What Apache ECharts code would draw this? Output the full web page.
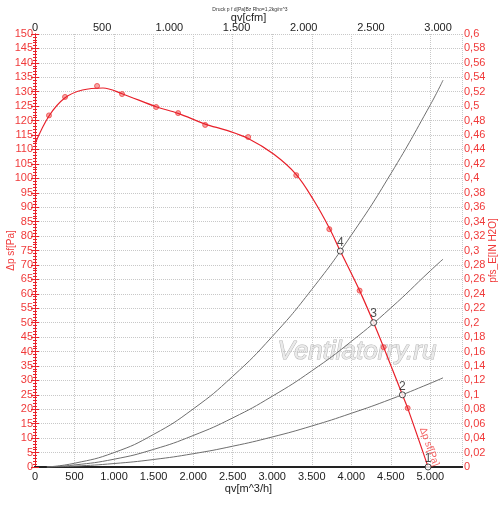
<!DOCTYPE html>
<html>
<head>
<meta charset="utf-8">
<script src="https://cdn.jsdelivr.net/npm/echarts@6/dist/echarts.min.js"></script>
<style>
  html, body { margin: 0; padding: 0; background: #fff; }
  #chart { width: 500px; height: 505px; }
</style>
</head>
<body>
<div id="chart"></div>
<script>
// fan curve (qv in m^3/h, pressure in Pa)
var curveQ = [0, 177, 380, 600, 860, 1101, 1532, 1810, 2152, 2426, 2696, 3017, 3304, 3523, 3722, 3861, 4105, 4282, 4409, 4646, 4713, 4971];
var curveP = [112, 121.6, 127.9, 130.6, 131.3, 129.3, 124.8, 122.5, 118.8, 116.6, 113.8, 108.4, 101.3, 92.5, 82.8, 74.8, 61.1, 50.0, 41.5, 25.0, 20.4, 0];

// measured points on the curve
var dotQ = [177, 380, 785, 1101, 1532, 1810, 2152, 2696, 3304, 3722, 4105, 4409, 4713];
var dotP = [121.8, 128.2, 132.0, 129.2, 124.7, 122.6, 118.5, 114.3, 101.1, 82.4, 61.1, 41.5, 20.4];

// system curves 2, 3, 4
var sysQ = [150, 500, 1000, 1500, 2000, 2500, 3000, 3500, 4000, 4500, 5000, 5160];
var sys2 = [0, 0.3, 1.2, 2.6, 4.6, 7.2, 10.4, 14.2, 18.6, 23.5, 29.0, 30.9];
var sys3 = [0, 0.7, 2.7, 6.1, 10.9, 17.0, 24.5, 33.3, 43.5, 55.1, 68.0, 72.0];
var sys4 = [0, 1.3, 5.0, 11.3, 20.1, 31.4, 45.2, 61.5, 80.3, 101.6, 125.5, 134.0];

// operating points
var opName = ['1', '2', '3', '4'];
var opQ = [4971, 4646, 4282, 3861];
var opP = [0, 25.0, 50.0, 74.8];

var red = '#e8202a';
var redText = '#f03a3a';
var font = 'Liberation Sans';

function pairs(xs, ys) {
    var out = [];
    for (var i = 0; i < xs.length; i++) out.push([xs[i], ys[i]]);
    return out;
}
function thousands(v) {
    if (v % 500 !== 0) return '';
    if (v < 1000) return String(v);
    return (v / 1000).toFixed(3);
}

var myChart = echarts.init(document.getElementById('chart'));
var option = {
    animation: false,
    backgroundColor: '#fff',
    title: {
        text: 'Druck p f d[Pa]Bz Rho=1,2kg/m^3',
        left: 'center',
        top: 2,
        textStyle: { fontSize: 5, fontWeight: 'normal', color: '#333', fontFamily: font }
    },
    grid: { left: 35, right: 38, top: 34, bottom: 38, containLabel: false, outerBoundsMode: 'none' },
    graphic: [{
        type: 'text',
        left: 277,
        top: 338,
        silent: true,
        style: {
            text: 'Ventilatorry.ru',
            font: 'italic 26px "Liberation Sans"',
            fill: '#eaeaea',
            stroke: '#b4b4b4',
            lineWidth: 1
        }
    }],
    xAxis: [
        {
            type: 'value',
            position: 'bottom',
            min: 0,
            max: 5400,
            interval: 500,
            name: 'qv[m^3/h]',
            nameLocation: 'middle',
            nameGap: 16,
            nameMoveOverlap: false,
            nameTextStyle: { color: '#222', fontSize: 11, fontFamily: font },
            axisLine: { lineStyle: { color: '#222', width: 2 } },
            axisTick: { show: false },
            axisLabel: { color: '#222', fontSize: 11, fontFamily: font, margin: 4, formatter: thousands },
            splitLine: { show: true, lineStyle: { color: '#c8c8c8', type: 'dotted' } }
        },
        {
            type: 'value',
            position: 'top',
            min: 0,
            max: 3178,
            interval: 500,
            name: 'qv[cfm]',
            nameLocation: 'middle',
            nameGap: 11,
            nameMoveOverlap: false,
            nameTextStyle: { color: '#222', fontSize: 11, fontFamily: font },
            axisLine: { lineStyle: { color: '#222', width: 2 } },
            axisTick: { show: false },
            axisLabel: { color: '#222', fontSize: 11, fontFamily: font, margin: 1, formatter: thousands },
            splitLine: { show: false }
        }
    ],
    yAxis: [
        {
            type: 'value',
            position: 'left',
            min: 0,
            max: 150,
            interval: 5,
            name: 'Δp sf[Pa]',
            nameLocation: 'middle',
            nameRotate: 90,
            nameGap: 19,
            nameMoveOverlap: false,
            nameTextStyle: { color: redText, fontSize: 10, fontFamily: font },
            axisLine: { show: true, lineStyle: { color: red } },
            axisTick: { show: true, length: 4, lineStyle: { color: red } },
            minorTick: { show: true, splitNumber: 5, length: 2, lineStyle: { color: red } },
            axisLabel: { color: redText, fontSize: 11, fontFamily: font, margin: 2 },
            splitLine: { show: true, lineStyle: { color: '#c8c8c8', type: 'dotted' } }
        },
        {
            type: 'value',
            position: 'right',
            min: 0,
            max: 0.6,
            interval: 0.02,
            name: 'pfs_E[IN H2O]',
            nameLocation: 'middle',
            nameRotate: 90,
            nameGap: 26,
            nameMoveOverlap: false,
            nameTextStyle: { color: redText, fontSize: 10, fontFamily: font },
            axisLine: { show: true, lineStyle: { color: red } },
            axisTick: { show: true, length: 4, lineStyle: { color: red } },
            minorTick: { show: true, splitNumber: 5, length: 2, lineStyle: { color: red } },
            axisLabel: {
                color: redText, fontSize: 11, fontFamily: font, margin: 2,
                formatter: function (v) { return String(+v.toFixed(2)).replace('.', ','); }
            },
            splitLine: { show: false }
        }
    ],
    series: [
        {
            name: 'sys2', type: 'line', smooth: true, symbol: 'none',
            lineStyle: { color: '#6e6e6e', width: 1 },
            data: pairs(sysQ, sys2)
        },
        {
            name: 'sys3', type: 'line', smooth: true, symbol: 'none',
            lineStyle: { color: '#6e6e6e', width: 1 },
            data: pairs(sysQ, sys3)
        },
        {
            name: 'sys4', type: 'line', smooth: true, symbol: 'none',
            lineStyle: { color: '#6e6e6e', width: 1 },
            data: pairs(sysQ, sys4)
        },
        {
            name: 'fan', type: 'line', smooth: 0.35, symbol: 'none',
            lineStyle: { color: red, width: 1.2 },
            data: pairs(curveQ, curveP)
        },
        {
            name: 'dots', type: 'scatter', symbol: 'circle', symbolSize: 5,
            itemStyle: { color: '#f59090', borderColor: '#ee4444', borderWidth: 1 },
            data: pairs(dotQ, dotP)
        },
        {
            name: 'op', type: 'scatter', symbol: 'circle', symbolSize: 6,
            itemStyle: { color: '#fff', borderColor: '#222', borderWidth: 1 },
            label: {
                show: true, position: 'top', distance: -1, color: '#222', fontSize: 12, fontFamily: font,
                formatter: function (p) { return opName[p.dataIndex]; }
            },
            data: pairs(opQ, opP),
            z: 5
        },
        {
            // curve name written along the red line
            name: 'tag', type: 'scatter', symbolSize: 0, silent: true,
            label: {
                show: true, position: 'inside', color: redText, fontSize: 10, fontFamily: font,
                rotate: -70, formatter: 'Δp sf[Pa]'
            },
            data: [[4985, 7]]
        }
    ]
};
myChart.setOption(option);
</script>
</body>
</html>
